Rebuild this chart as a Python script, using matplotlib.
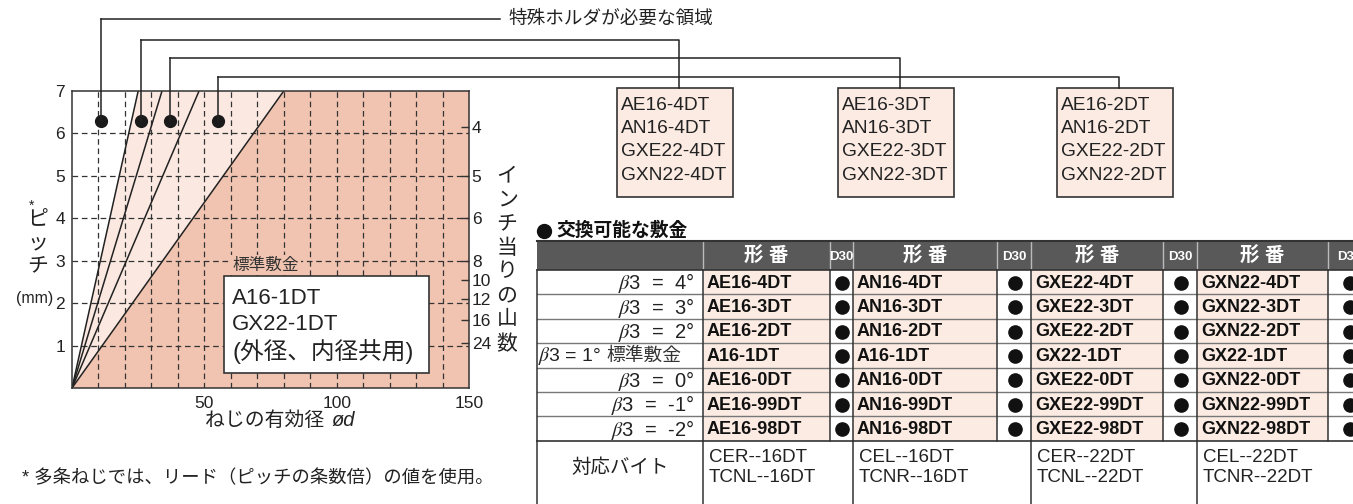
import matplotlib
matplotlib.use("Agg")
import matplotlib.pyplot as plt
from matplotlib.patches import Rectangle, Polygon

plt.rcParams['font.family'] = ['Liberation Sans', 'Noto Sans CJK JP', 'DejaVu Sans']
plt.rcParams['mathtext.fontset'] = 'stix'

# ---------------- data ----------------
x_ticks = [50, 100, 150]
y_ticks = [1, 2, 3, 4, 5, 6, 7]
tpi_labels = ['4', '5', '6', '8', '10', '12', '16', '24']
tpi_pos = [6.15, 5.0, 4.0, 3.0, 2.55, 2.1, 1.6, 1.05]
boundary_d_at_top = [25, 34, 48, 80]      # diameter where each boundary line reaches pitch 7
dot_d = [11, 26, 37, 55]
dot_p = 6.3
grid_x = [10, 20, 30, 40, 50, 60, 70, 80, 90, 100, 110, 120, 130, 140]
grid_y = [1, 2, 3, 4, 5, 6]

box_models = [
    ["AE16-4DT", "AN16-4DT", "GXE22-4DT", "GXN22-4DT"],
    ["AE16-3DT", "AN16-3DT", "GXE22-3DT", "GXN22-3DT"],
    ["AE16-2DT", "AN16-2DT", "GXE22-2DT", "GXN22-2DT"],
]
std_models = ["A16-1DT", "GX22-1DT", "(外径、内径共用)"]

row_angles = ["4", "3", "2", "1", "0", "-1", "-2"]
col_AE16 = ["AE16-4DT", "AE16-3DT", "AE16-2DT", "A16-1DT", "AE16-0DT", "AE16-99DT", "AE16-98DT"]
col_AN16 = ["AN16-4DT", "AN16-3DT", "AN16-2DT", "A16-1DT", "AN16-0DT", "AN16-99DT", "AN16-98DT"]
col_GXE22 = ["GXE22-4DT", "GXE22-3DT", "GXE22-2DT", "GX22-1DT", "GXE22-0DT", "GXE22-99DT", "GXE22-98DT"]
col_GXN22 = ["GXN22-4DT", "GXN22-3DT", "GXN22-2DT", "GX22-1DT", "GXN22-0DT", "GXN22-99DT", "GXN22-98DT"]
bites = [("CER--16DT", "TCNL--16DT"), ("CEL--16DT", "TCNR--16DT"),
         ("CER--22DT", "TCNL--22DT"), ("CEL--22DT", "TCNR--22DT")]

# ---------------- colours ----------------
SALMON = '#f0c4b0'
LIGHT = '#fbe9e1'
CELL = '#fbebe3'
DARK = '#333333'
HEAD = '#595959'
TXT = '#222222'

W, H = 1353, 504
fig = plt.figure(figsize=(W / 100, H / 100), dpi=100)

# chart axes (pixel box)
L, R, T, B = 72, 469, 91, 388
ax = fig.add_axes([L / W, (H - B) / H, (R - L) / W, (B - T) / H])
ax.set_xlim(0, 150)
ax.set_ylim(0, 7)

ax.add_patch(Polygon([(0, 0), (boundary_d_at_top[0], 7), (boundary_d_at_top[-1], 7)],
                     closed=True, facecolor=LIGHT, edgecolor='none', zorder=0))
ax.add_patch(Polygon([(0, 0), (boundary_d_at_top[-1], 7), (150, 7), (150, 0)],
                     closed=True, facecolor=SALMON, edgecolor='none', zorder=0))
dash = (0, (4.5, 3))
ax.vlines(grid_x, 0, 7, colors=DARK, linestyles=[dash], linewidth=0.9, zorder=1)
ax.hlines(grid_y, 0, 150, colors=DARK, linestyles=[dash], linewidth=0.9, zorder=1)
for d in boundary_d_at_top:
    ax.plot([0, d], [0, 7], color='#222222', lw=1.1, zorder=2)
ax.plot(dot_d, [dot_p] * len(dot_d), 'o', color='#1a1a1a', ms=8.5, zorder=5, clip_on=False)

for s in ax.spines.values():
    s.set_color(DARK)
    s.set_linewidth(1.1)
ax.set_xticks(x_ticks)
ax.set_yticks(y_ticks)
ax.tick_params(axis='both', length=0, labelsize=12.5, colors=TXT, pad=6)
ax.tick_params(axis='y', pad=5)

ax2 = ax.twinx()
ax2.set_ylim(0, 7)
ax2.set_yticks(tpi_pos)
ax2.set_yticklabels(tpi_labels)
ax2.tick_params(axis='y', direction='in', length=6, width=1, color=DARK,
                labelsize=12.5, labelcolor=TXT, pad=2)
for s in ax2.spines.values():
    s.set_visible(False)

# ---------------- overlay in pixel coordinates ----------------
ov = fig.add_axes([0, 0, 1, 1])
ov.set_xlim(0, W)
ov.set_ylim(H, 0)
ov.axis('off')


def to_px(x, y):
    disp = ax.transData.transform((x, y))
    return ov.transData.inverted().transform(disp)


# standard insert label and box
ov.text(232, 265, "標準敷金", fontsize=12, color='#333333', va='center', ha='left',
        bbox=dict(facecolor=SALMON, edgecolor='none', pad=2), zorder=3)
ov.add_patch(Rectangle((224, 276), 205, 97, facecolor='white', edgecolor=DARK, lw=1.2, zorder=3))
for i, t in enumerate(std_models):
    ov.text(232, 298 + 27 * i, t, fontsize=16 if i < 2 else 17, color=TXT,
            va='center', ha='left', zorder=4)

# callout lines
line_y = [19, 40, 58, 77]
box_x = [617, 838, 1057]
box_w, box_top, box_bot = 116, 88, 197
for i, d in enumerate(dot_d):
    px, py = to_px(d, dot_p)
    ov.plot([px, px], [py, line_y[i]], color='#222222', lw=1.1)
    if i == 0:
        ov.plot([px, 500], [line_y[i], line_y[i]], color='#222222', lw=1.1)
    else:
        cx = box_x[i - 1] + 62
        ov.plot([px, cx, cx], [line_y[i], line_y[i], box_top], color='#222222', lw=1.1)
ov.text(508, 19, "特殊ホルダが必要な領域", fontsize=13.4, color=TXT, va='center', ha='left')

for bx, models in zip(box_x, box_models):
    ov.add_patch(Rectangle((bx, box_top), box_w, box_bot - box_top, facecolor=CELL,
                           edgecolor=DARK, lw=1.2))
    for j, m in enumerate(models):
        ov.text(bx + 4, 105 + 23.5 * j, m, fontsize=13.8, color=TXT, va='center', ha='left')

# axis labels
ov.text(32, 206, "*", fontsize=10, ha='center', va='center', color=TXT)
for j, ch in enumerate("ピッチ"):
    ov.text(38, 220 + 23 * j, ch, fontsize=15, ha='center', va='center', color=TXT)
ov.text(35, 298, "(mm)", fontsize=11.5, ha='center', va='center', color=TXT)
for j, ch in enumerate("インチ当りの山数"):
    ov.text(507, 176 + 24 * j, ch, fontsize=15, ha='center', va='center', color=TXT)
ov.text(330, 420, "ねじの有効径 ", fontsize=14.3, ha='right', va='center', color=TXT)
ov.text(332, 420, "ød", fontsize=14.5, ha='left', va='center', style='italic', color=TXT)
ov.text(22, 478, "* 多条ねじでは、リード（ピッチの条数倍）の値を使用。", fontsize=13.2,
        ha='left', va='center', color=TXT)

# ---------------- table ----------------
ov.plot([544], [231], 'o', color='#111111', ms=10)
ov.text(556, 231, "交換可能な敷金", fontsize=13.5, fontweight='bold', ha='left', va='center',
        color='#111111')
tx0 = 537
col_edges = [tx0, 703, 830, 853, 997, 1031, 1163, 1197, 1328, 1370]
t_top, h_bot, rh = 241, 270, 24.4
row_edges = [h_bot + rh * k for k in range(8)]
t_bot = 506

# header
ov.add_patch(Rectangle((tx0, t_top), col_edges[-1] - tx0, h_bot - t_top, facecolor=HEAD,
                       edgecolor='none'))
for k in range(1, 9):
    ov.plot([col_edges[k]] * 2, [t_top, h_bot], color='#bbbbbb', lw=1)
for k in range(4):
    a, b, c = col_edges[1 + 2 * k], col_edges[2 + 2 * k], col_edges[3 + 2 * k]
    ov.text((a + b) / 2, (t_top + h_bot) / 2 + 1, "形 番", fontsize=14, fontweight='bold',
            color='white', ha='center', va='center')
    ov.text((b + c) / 2, (t_top + h_bot) / 2 + 1, "D30", fontsize=9.5, fontweight='bold',
            color='white', ha='center', va='center')

# data rows
cols = [col_AE16, col_AN16, col_GXE22, col_GXN22]
for r in range(7):
    y0, y1 = row_edges[r], row_edges[r + 1]
    ym = (y0 + y1) / 2 + 1
    for k, col in enumerate(cols):
        a, b, c = col_edges[1 + 2 * k], col_edges[2 + 2 * k], col_edges[3 + 2 * k]
        ov.add_patch(Rectangle((a, y0), b - a, y1 - y0, facecolor=CELL, edgecolor='none'))
        ov.text(a + 4, ym, col[r], fontsize=13, fontweight='bold', color='#111111',
                ha='left', va='center')
        ov.plot([(b + c) / 2 + 0.5], [ym - 0.5], 'o', color='#111111', ms=9.5)
    if row_angles[r] == "1":
        ov.text(538, ym, r"$\beta$3 = " + row_angles[r] + "°", fontsize=14, color=TXT,
                ha='left', va='center')
        ov.text(606, ym, "標準敷金", fontsize=13.5, color='#333333', ha='left', va='center')
    else:
        ov.text(694, ym, r"$\beta$3  =  " + row_angles[r] + "°", fontsize=14.5, color=TXT,
                ha='right', va='center')

# horizontal lines
for k, y in enumerate(row_edges):
    ov.plot([tx0, col_edges[-1]], [y, y], color='#777777' if 0 < k < 7 else DARK,
            lw=1.0 if 0 < k < 7 else 1.2)
ov.plot([tx0, col_edges[-1]], [t_top, t_top], color=DARK, lw=1.5)
# vertical lines in body
for k in range(9):
    ov.plot([col_edges[k]] * 2, [h_bot, row_edges[-1]], color=DARK, lw=1.1)
for k in [0, 1, 3, 5, 7]:
    ov.plot([col_edges[k]] * 2, [row_edges[-1], t_bot], color=DARK, lw=1.1)

# last row
ov.text((col_edges[0] + col_edges[1]) / 2, (row_edges[-1] + t_bot) / 2 - 6, "対応バイト",
        fontsize=14, color=TXT, ha='center', va='center')
for k, (l1, l2) in enumerate(bites):
    x = col_edges[1 + 2 * k] + 6
    ov.text(x, row_edges[-1] + 17, l1, fontsize=13.5, color=TXT, ha='left', va='center')
    ov.text(x, row_edges[-1] + 37, l2, fontsize=13.5, color=TXT, ha='left', va='center')

fig.savefig("out.png", dpi=100)
